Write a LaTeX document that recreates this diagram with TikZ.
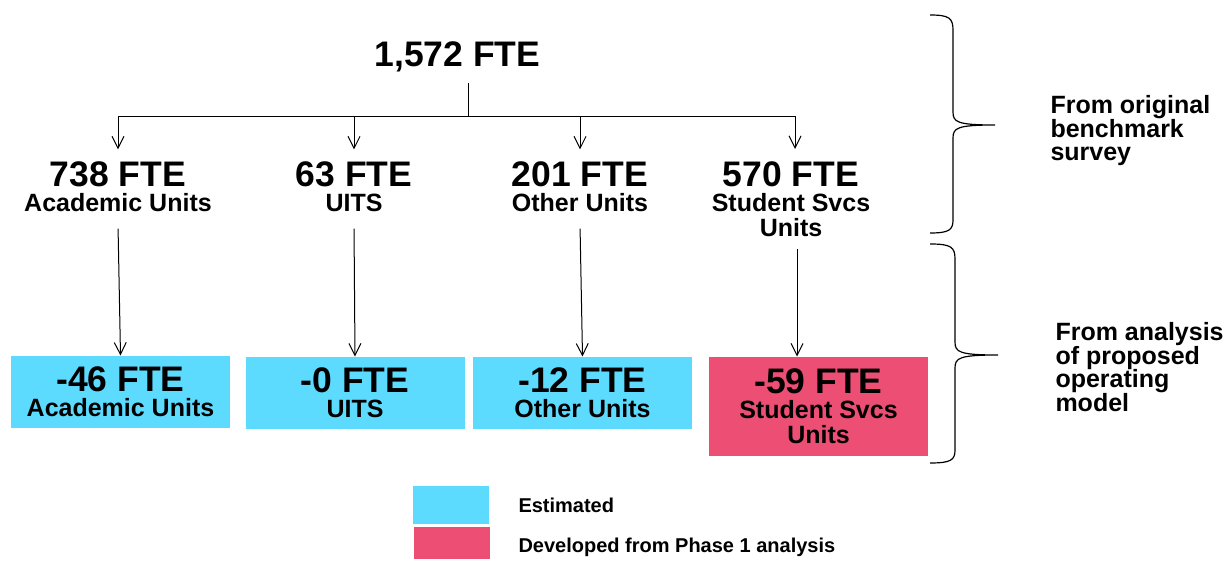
\documentclass[tikz,border=0pt]{standalone}
\usepackage{fontspec}
\setmainfont{Liberation Sans}
\usetikzlibrary{arrows.meta}

\definecolor{estcyan}{RGB}{93,219,255}
\definecolor{devpink}{RGB}{236,79,115}

\def\bigfte{\fontsize{35.5}{25}\selectfont}
\def\unitfte{\fontsize{25}{25}\selectfont}
\def\notefont{\fontsize{25}{23.5}\selectfont}
\def\legfont{\fontsize{20}{22}\selectfont}

\begin{document}
\begin{tikzpicture}[x=1pt,y=-1pt,line width=1pt,>={Straight Barb[length=12pt,width=12pt]}]
    \tikzstyle{count}=[align=center,font=\bfseries\unitfte,inner xsep=0pt,inner ysep=12pt]
    \tikzstyle{change}=[count,inner ysep=0pt,minimum width=219pt,minimum height=72pt]
    \tikzstyle{estimated}=[change,fill=estcyan]
    \tikzstyle{developed}=[change,fill=devpink,minimum height=99pt]
    \tikzstyle{note}=[align=left,anchor=north west,inner sep=0pt,font=\bfseries\notefont]
    \tikzstyle{legend box}=[inner sep=0pt,minimum width=76pt]
    \tikzstyle{legend text}=[anchor=base west,inner sep=0pt,font=\bfseries\legfont]

    \useasboundingbox (0,0) rectangle (1231,561);

    % Total
    \node[font=\bfseries\bigfte,inner sep=0pt,anchor=base] (total) at (457.5,67) {1,572 FTE};
    \coordinate (split) at (468,117);

    % Benchmark survey figures
    \node[count] (aca)  at (118,187)  {{\bigfte 738 FTE}\\Academic Units};
    \node[count] (uits) at (354,187)  {{\bigfte 63 FTE}\\UITS};
    \node[count] (oth)  at (580,187)  {{\bigfte 201 FTE}\\Other Units};
    \node[count] (stu)  at (791,199)  {{\bigfte 570 FTE}\\Student Svcs\\Units};

    % Changes from the proposed operating model
    \node[estimated] (dAca)  at (120.5,392) {{\bigfte -46 FTE}\\Academic Units};
    \node[estimated] (dUits) at (355,393)   {{\bigfte -0 FTE}\\UITS};
    \node[estimated] (dOth)  at (582.5,393) {{\bigfte -12 FTE}\\Other Units};
    \node[developed] (dStu)  at (818.5,406.5) {{\bigfte -59 FTE}\\Student Svcs\\Units};

    % Connect the total with every unit group
    \draw[shorten <=10pt] (total.south -| split) -- (split);
    \foreach \dest in {aca,uits,oth}
        \draw[->] (split) -| (\dest.north);
    \draw[->] (split) -| ([xshift=4pt]stu.north);

    % Connect every unit group with its change
    \foreach \source/\dest in {aca/dAca,uits/dUits,oth/dOth}
        \draw[->,shorten <=4pt] (\source.south) -- (\dest.north);
    \draw[->] ([xshift=6pt]stu.south) -- ([xshift=6pt]stu.south |- dStu.north);

    % Braces and their notes
    \draw[line width=1.2pt] (930,15) .. controls (949,15) and (953,18) .. (953,30) -- (953,112)
        .. controls (953,122) and (957,125) .. (995,125)
        .. controls (957,125) and (953,128) .. (953,138) -- (953,220)
        .. controls (953,230) and (949,233) .. (930,233);
    \draw[line width=1.2pt] (930,244) .. controls (951,244) and (955,247) .. (955,259) -- (955,342)
        .. controls (955,352) and (959,355) .. (998,355)
        .. controls (959,355) and (955,358) .. (955,368) -- (955,450)
        .. controls (955,460) and (951,463) .. (930,463);
    \node[note] (survey) at (1050,95) {From original\\benchmark\\survey};
    \node[note] (model)  at (1055,322) {From analysis\\of proposed\\operating\\model};

    % Legend
    \node[legend box,fill=estcyan,minimum height=38pt] (legEst) at (451,505) {};
    \node[legend box,fill=devpink,minimum height=32pt] (legDev) at (452,543) {};
    \node[legend text] (txtEst) at (518,512) {Estimated};
    \node[legend text] (txtDev) at (518,552) {Developed from Phase 1 analysis};
\end{tikzpicture}
\end{document}
